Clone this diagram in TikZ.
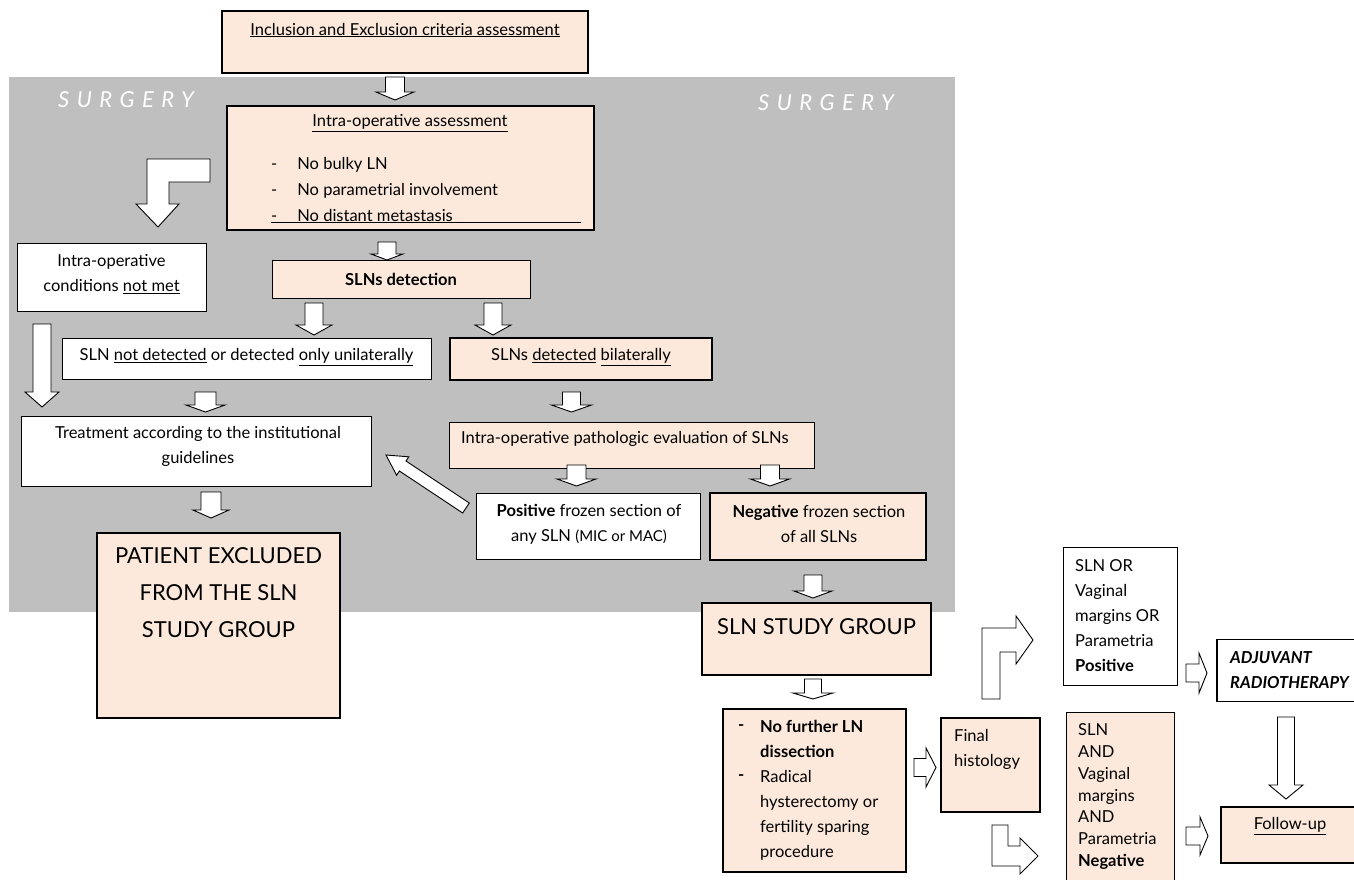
\documentclass[tikz,border=0pt]{standalone}
\usepackage{fontspec}
\setmainfont{Lato}
\definecolor{peach}{HTML}{FCE9DB}
\definecolor{sgray}{HTML}{BFBFBF}
\newcommand\bdn[6]{\draw[blk] ({#1-#4},#2) -- ({#1+#4},#2) -- ({#1+#4},{#3-#6}) -- ({#1+#5},{#3-#6}) -- (#1,#3) -- ({#1-#5},{#3-#6}) -- ({#1-#4},{#3-#6}) -- cycle;}
\newcommand\brt[6]{\draw[blk] (#2,{#1-#4}) -- ({#3-#6},{#1-#4}) -- ({#3-#6},{#1-#5}) -- (#3,#1) -- ({#3-#6},{#1+#5}) -- ({#3-#6},{#1+#4}) -- (#2,{#1+#4}) -- cycle;}
\tikzset{
 every node/.style={font=\fontsize{16.5}{25}\selectfont, inner sep=0pt},
 box/.style={draw=black, line width=0.9pt},
 thk/.style={line width=2.6pt},
 pk/.style={box, fill=peach},
 wt/.style={box, fill=white},
 blk/.style={draw=black, line width=0.9pt, fill=white, line join=miter},
 ctxt/.style={align=center},
 ltxt/.style={align=left, anchor=west},
 big/.style={font=\fontsize{22}{37}\selectfont},
 surg/.style={text=white, font=\fontsize{22}{26}\selectfont\itshape\addfontfeature{LetterSpace=34}},
}
\begin{document}
\begin{tikzpicture}[x=1pt,y=-1pt]
\useasboundingbox (0,0) rectangle (1354,879);
% gray surgery area
\fill[sgray] (9,77) rectangle (955,612);
\node[surg] (s1) at (126,100) {SURGERY};
\node[surg] (s2) at (826,103) {SURGERY};

% boxes
\node[pk, thk, minimum width=366pt, minimum height=62pt] (incl) at (405,42) {};
\node (inclt) at (405,30) {\underline{Inclusion and Exclusion criteria assessment}};

\node[pk, thk, minimum width=367pt, minimum height=124pt] (intra) at (410.5,168) {};
\node (intrat) at (410,123) {\underline{Intra-operative assessment}};
\node[ltxt] (b1) at (271,165) {-\hspace{20pt}No bulky LN};
\node[ltxt] (b2) at (271,191) {-\hspace{20pt}No parametrial involvement};
\node[ltxt] (b3) at (271,216) {\underline{\makebox[310pt][l]{-\hspace{20pt}No distant metastasis}}};

\node[wt, minimum width=189pt, minimum height=68pt] (notmet) at (111.5,277) {};
\node[ctxt] (notmett) at (111.5,274.5) {Intra-operative\\conditions \underline{not met}};

\node[pk, minimum width=258pt, minimum height=38pt] (sldet) at (401,279) {};
\node (sldett) at (401,279) {\textbf{SLNs detection}};

\node[wt, minimum width=369pt, minimum height=41pt] (notdet) at (246.5,358.5) {};
\node (notdett) at (246.5,357) {SLN \underline{not detected} or detected \underline{only unilaterally}};

\node[pk, thk, minimum width=262pt, minimum height=42pt] (bilat) at (581,359) {};
\node (bilatt) at (581,357) {SLNs \underline{detected} \underline{bilaterally}};

\node[wt, minimum width=350pt, minimum height=70pt] (treat) at (196,451) {};
\node[ctxt] (treatt) at (198,446.5) {Treatment according to the institutional\\guidelines};

\node[pk, thk, minimum width=243pt, minimum height=185pt] (patient) at (218.5,625.5) {};
\node[ctxt, big] (patientt) at (218.5,593) {PATIENT EXCLUDED\\FROM THE SLN\\STUDY GROUP};

\node[pk, minimum width=365pt, minimum height=46pt] (patho) at (631.5,445) {};
\node[ltxt] (pathot) at (461,439) {Intra-operative pathologic evaluation of SLNs};

\node[wt, minimum width=224pt, minimum height=66pt] (pos) at (588,526) {};
\node[ctxt] (post) at (589,524) {\textbf{Positive} frozen section of\\any SLN {\fontsize{15}{25}\selectfont(MIC or MAC)}};

\node[pk, thk, minimum width=216pt, minimum height=67pt] (neg) at (818,526.5) {};
\node[ctxt] (negt) at (819,524) {\textbf{Negative} frozen section\\of all SLNs};

\node[pk, thk, minimum width=229pt, minimum height=72pt] (study) at (816.5,639) {};
\node[big] (studyt) at (816.5,627) {SLN STUDY GROUP};

\node[pk, thk, minimum width=183pt, minimum height=163pt] (nofur) at (814.5,790.5) {};
\node[ltxt] (d1) at (738,728) {\textbf{-}};
\node[ltxt] (d2) at (738,778) {\textbf{-}};
\node[ltxt] (nofurt) at (760,790.5) {\textbf{No further LN}\\\textbf{dissection}\\Radical\\hysterectomy or\\fertility sparing\\procedure};

\node[pk, thk, minimum width=99pt, minimum height=94pt] (final) at (990.5,765) {};
\node[ltxt] (finalt) at (954,749.5) {Final\\histology};

\node[wt, minimum width=114pt, minimum height=138pt] (posm) at (1120,616) {};
\node[ltxt] (posmt) at (1075,615.5) {SLN OR\\Vaginal\\margins OR\\Parametria\\\textbf{Positive}};

\node[pk, minimum width=108pt, minimum height=180pt] (negm) at (1120,802) {};
\node[ltxt, font=\fontsize{16.5}{21.8}\selectfont] (negmt) at (1078,796.5) {SLN\\AND\\Vaginal\\margins\\AND\\Parametria\\\textbf{Negative}};

\node[wt, line width=1.6pt, minimum width=150pt, minimum height=62pt] (adj) at (1292,670.5) {};
\node[ltxt] (adjt) at (1230,670) {\textbf{\textit{ADJUVANT}}\\\textbf{\textit{RADIOTHERAPY}}};

\node[pk, thk, minimum width=150pt, minimum height=56pt] (fol) at (1296,835) {};
\node (folt) at (1290,826) {\underline{Follow-up}};

% block arrows
\bdn{395}{77}{100}{9.5}{19}{8}
\bdn{387}{242}{260}{9}{16}{6}
\bdn{314}{303}{335}{9}{18}{10}
\bdn{493}{303}{335}{9}{18}{10}
\draw[blk] (147,204) -- (147,159) -- (210,159) -- (210,182) -- (169,182) -- (169,204) -- (179,204) -- (158,227) -- (136,204) -- cycle;
\bdn{42}{324}{407}{9}{17}{15}
\bdn{205.5}{392}{412}{10.5}{19.5}{7}
\bdn{211}{492}{518}{10}{18}{8}
\bdn{571.5}{392}{412}{9}{20}{7}
\bdn{576.5}{465}{486}{9.5}{19.5}{7}
\bdn{770}{465}{486}{9.5}{19.5}{7}
\draw[blk] (469.3,503) -- (406,461) -- (408.8,456.8) -- (386,455) -- (396.6,475.2) -- (399.4,471) -- (462.7,513) -- cycle;
\bdn{813}{575}{598}{9}{19}{7}
\bdn{813}{679}{699}{8.5}{20}{6}
\brt{767.5}{914}{936}{9}{19.5}{10}
\draw[blk] (982,699) -- (982,628) -- (1016,628) -- (1016,616) -- (1033,640) -- (1016,664) -- (1016,652) -- (1000,652) -- (1000,699) -- cycle;
\draw[blk] (992,825) -- (1008,825) -- (1008,846) -- (1020,846) -- (1020,838) -- (1038,856) -- (1020,874) -- (1020,866) -- (992,866) -- cycle;
\brt{673}{1186}{1207}{9}{20}{8}
\bdn{1286}{717}{799}{8.5}{17}{14}
\brt{836}{1186}{1208}{9}{19}{8}
\end{tikzpicture}
\end{document}
